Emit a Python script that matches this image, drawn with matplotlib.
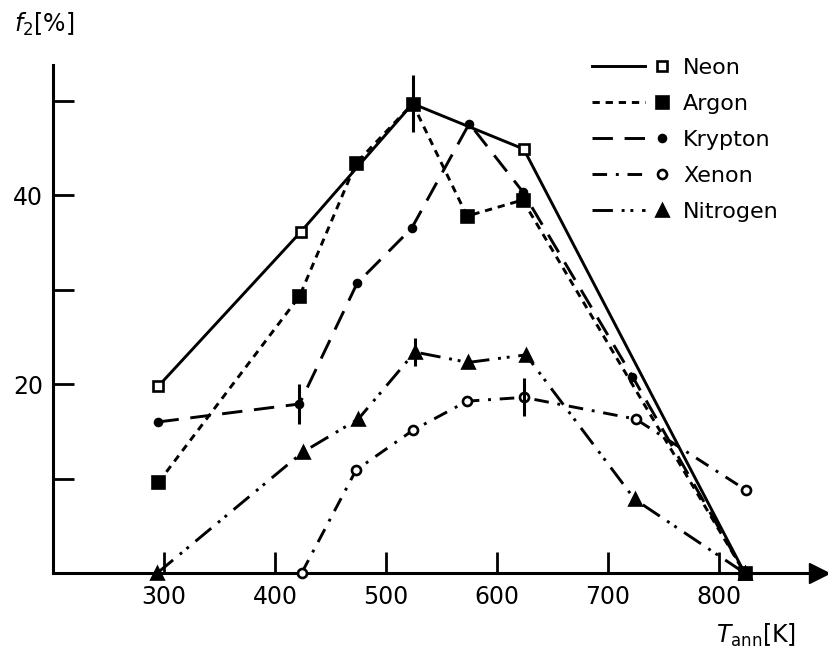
import matplotlib
matplotlib.use("Agg")
import matplotlib.pyplot as plt
from matplotlib.lines import Line2D
from matplotlib.legend_handler import HandlerLine2D

# annealing temperature [K] and f2 [%] for each gas
neon_T = [295, 423, 524, 624, 823]
neon_f = [19.8, 36.1, 49.7, 44.9, 0.0]

argon_T = [295, 422, 473, 524, 573, 623, 823]
argon_f = [9.6, 29.3, 43.4, 49.7, 37.8, 39.5, 0.0]

krypton_T = [295, 422, 474, 523, 575, 623, 722, 823]
krypton_f = [16.0, 17.9, 30.7, 36.5, 47.6, 40.4, 20.8, 0.0]

xenon_T = [424, 473, 524, 573, 624, 725, 824]
xenon_f = [0.0, 10.9, 15.1, 18.2, 18.6, 16.3, 8.8]

nitrogen_T = [294, 425, 475, 526, 574, 626, 724, 823]
nitrogen_f = [0.0, 12.8, 16.3, 23.4, 22.3, 23.1, 7.8, 0.0]

# error bars: (T, f2, half height)
err_T = [524, 422, 526, 624]
err_f = [49.7, 17.9, 23.4, 18.6]
err_h = [3.0, 2.1, 1.5, 2.0]

x_ticks = [300, 400, 500, 600, 700, 800]
y_ticks = [10, 20, 30, 40, 50]
y_labels = ["", "20", "", "40", ""]


class LineThenMarker(HandlerLine2D):
    """Legend entry: line segment on the left, marker at the right end."""

    def create_artists(self, legend, orig_handle, xdescent, ydescent,
                       width, height, fontsize, trans):
        y = height / 2 - ydescent
        line = Line2D([-xdescent, -xdescent + width * 0.70], [y, y])
        self.update_prop(line, orig_handle, legend)
        line.set_marker("None")
        line.set_transform(trans)
        mark = Line2D([-xdescent + width * 0.92], [y])
        self.update_prop(mark, orig_handle, legend)
        mark.set_linestyle("None")
        mark.set_transform(trans)
        return [line, mark]


fig = plt.figure(figsize=(8.29, 6.57), dpi=100)
ax = fig.add_axes([53 / 829, 1 - 573 / 657, 766 / 829, 508 / 657])

lw = 2.1
series = [
    ("Neon", neon_T, neon_f, "-", "s", "white", 7.5),
    ("Argon", argon_T, argon_f, (0, (2.5, 2)), "s", "black", 8),
    ("Krypton", krypton_T, krypton_f, (0, (7, 4)), "o", "black", 5),
    ("Xenon", xenon_T, xenon_f, (0, (5, 3, 1, 3)), "o", "white", 6.5),
    ("Nitrogen", nitrogen_T, nitrogen_f, (0, (7, 3, 1, 2, 1, 3)), "^", "black", 8),
]
handles = []
for name, T, f, ls, mk, fc, ms in series:
    h, = ax.plot(T, f, color="black", linestyle=ls, linewidth=lw, marker=mk,
                 markersize=ms, markerfacecolor=fc, markeredgecolor="black",
                 markeredgewidth=1.9, label=name, clip_on=False, zorder=3)
    handles.append(h)

ax.errorbar(err_T, err_f, yerr=err_h, fmt="none", ecolor="black",
            elinewidth=2.2, capsize=0, zorder=4)

ax.set_xlim(200, 890)
ax.set_ylim(0, 53.8)

for side in ["top", "right"]:
    ax.spines[side].set_visible(False)
for side in ["left", "bottom"]:
    ax.spines[side].set_linewidth(2.2)
ax.plot(1, 0, ">k", markersize=15, transform=ax.get_yaxis_transform(), clip_on=False)
ax.plot(0, 1, "^k", markersize=15, transform=ax.get_xaxis_transform(), clip_on=False)

ax.set_xticks(x_ticks)
ax.set_yticks(y_ticks)
ax.set_yticklabels(y_labels)
ax.tick_params(direction="in", length=15, width=2, labelsize=17)
ax.tick_params(axis="x", pad=9)
ax.tick_params(axis="y", pad=7)

fig.text(14 / 829, 1 - 24 / 657, r"$f_2$[%]", fontsize=17, va="center", ha="left")
fig.text(796 / 829, 1 - 635 / 657, r"$T_{\mathrm{ann}}$[K]", fontsize=17,
         va="center", ha="right")

ax.legend(handles=handles, loc="upper left", bbox_to_anchor=(572 / 829, 1 - 38 / 657),
          bbox_transform=fig.transFigure, frameon=False, fontsize=16,
          handlelength=3.4, handletextpad=0.7, labelspacing=0.72,
          handler_map={Line2D: LineThenMarker()})

fig.savefig("out.png", dpi=100)
